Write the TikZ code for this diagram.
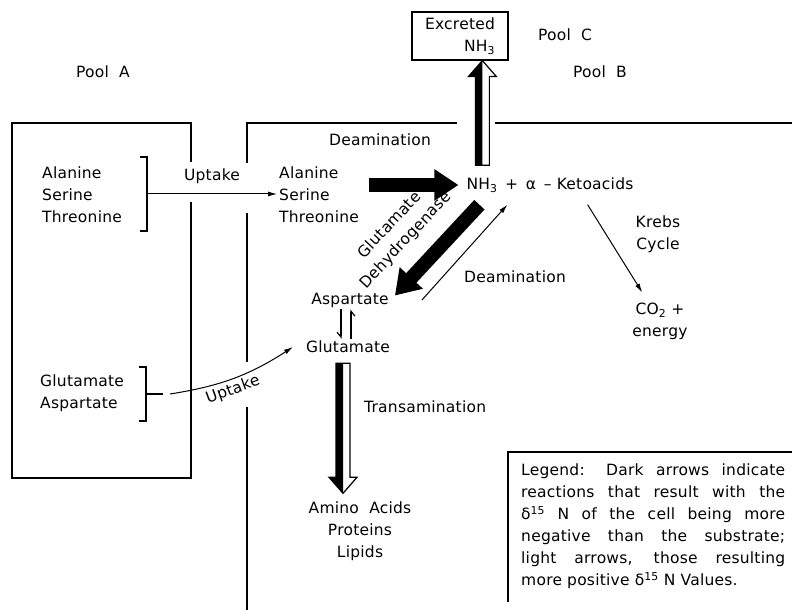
\documentclass[tikz,border=0pt]{standalone}
\usepackage{fontspec}
\setmainfont{DejaVu Sans}[LetterSpace=1.5]
\usetikzlibrary{arrows.meta,calc,positioning}

% arrow whose left half is dark and right half is light
\newcommand\halfarrow[2]{%
  \fill let \p1=(#1), \p2=(#2), \n2={\y2-ifthenelse(\y2>\y1,16,-16)} in
    (\x1,\y1) -- (\x1-7pt,\y1) -- (\x1-7pt,\n2) -- (\x1-14pt,\n2) -- (\x1,\y2) -- cycle;
  \draw[line width=1.2pt] let \p1=(#1), \p2=(#2), \n2={\y2-ifthenelse(\y2>\y1,16,-16)} in
    (\x1-7pt,\y1) -- (\x1+7pt,\y1) -- (\x1+7pt,\n2) -- (\x1+14pt,\n2) -- (\x1,\y2)
    -- (\x1-14pt,\n2) -- (\x1-7pt,\n2) -- cycle;}

\begin{document}
\begin{tikzpicture}[x=1pt, y=1pt,
    lbl/.style   = {font=\fontsize{15.5}{22}\selectfont, inner sep=2pt},
    frame/.style = {line width=1.2pt},
    thin/.style  = {-{Latex[length=9pt,width=5pt]}, line width=1pt},
    fat/.style   = {line width=14pt, -{Triangle[length=24pt,width=30pt]}},
    harp/.style  = {line width=1.2pt, -{Straight Barb[harpoon,swap,length=5pt,width=8pt]}}
  ]
  \useasboundingbox (0,0) rectangle (792,610);

  % pools
  \node[lbl] (poolA) at (103,538) {Pool\ \ A};
  \node[lbl] (poolB) at (600,538) {Pool\ \ B};
  \node[lbl] (poolC) at (565,575) {Pool\ \ C};
  \node[lbl, draw, frame, align=right, minimum width=96, minimum height=48, inner sep=1pt] (exc) at (460,574)
    {Excreted\\NH\textsubscript{3}};

  \draw[frame] (191,448) |- (12,487) |- (191,132) -- (191,408);
  \draw[frame] (247,447) |- (457,487);
  \draw[frame] (495,487) -- (792,487);
  \draw[frame] (247,397) -- (247,248);
  \draw[frame] (247,203) -- (247,0);
  \draw[frame] (792,158) -| (508,8);

  % substrates
  \node[lbl, align=left, anchor=west] (aAla) at (40,415) {Alanine\\Serine\\Threonine};
  \node[lbl, align=left, anchor=west] (aGlu) at (38,217) {Glutamate\\Aspartate};
  \coordinate (brA) at (147,416);
  \coordinate (brB) at (146,216);
  \draw[frame] ([shift={(-7,37)}]brA) -| ([yshift=-37]brA) -- ++(-7,0);
  \draw[frame] ([shift={(-7,27)}]brB) -| ([yshift=-27]brB) -- ++(-7,0);
  \draw[frame] (brB) -- ++(17,0);

  \node[lbl, align=left, anchor=west] (bAla) at (277,415) {Alanine\\Serine\\Threonine};
  \node[lbl] (deam1) at (380,470) {Deamination};
  \node[lbl] (nh3) at (550,425) {NH\textsubscript{3}\ \,+\ \,α\ \,–\ Ketoacids};
  \node[lbl, align=center, rotate=47, inner sep=0pt] (gdh) at (398,377) {Glutamate\\Dehydrogenase};
  \node[lbl] (asp) at (350,310) {Aspartate};
  \node[lbl] (glu) at (348,263) {Glutamate};
  \node[lbl] (deam2) at (515,333) {Deamination};
  \node[lbl, align=center] (krebs) at (658,376) {Krebs\\Cycle};
  \node[lbl, align=center] (co2) at (660,289) {CO\textsubscript{2} +\\energy};
  \node[lbl, anchor=west] (trans) at (362,203) {Transamination};
  \node[lbl, align=center] (amino) at (360,79) {Amino\ \ Acids\\Proteins\\Lipids};
  \node[lbl, text width=264, align=justify, anchor=north west] (legend) at (519,148)
    {Legend: Dark arrows indicate\linebreak reactions that result with the\linebreak
     δ\textsuperscript{15} N of the cell being more\linebreak negative than the substrate;\linebreak
     light arrows, those resulting\linebreak more positive δ\textsuperscript{15} N Values.};

  % uptake
  \draw[thin] (brA) -- (bAla.west |- brA);
  \node[lbl] (upt1) at (212,434) {Uptake};
  \draw[thin] ([xshift=24]brB) to[bend right=12] ([xshift=-11]glu.west);
  \node[lbl, rotate=20] (upt2) at (233,220) {Uptake};

  % reactions
  \draw[fat] ([xshift=8]bAla.east |- nh3.west) -- ([xshift=-6]nh3.west);
  \draw[fat] ([shift={(15,-10)}]nh3.south west) -- ([shift={(4,-5)}]asp.north east);
  \draw[thin] ([xshift=31]asp.east) -- ([shift={(43,-10)}]nh3.south west);
  \draw[thin] ([shift={(-48,-10)}]nh3.south east) -- ([shift={(12,8)}]co2.north west);
  \draw[harp] ([xshift=-9]asp.south) -- ([xshift=-9]asp.south |- glu.north);
  \draw[harp] ([xshift=1]asp.south |- glu.north) -- ([xshift=1]asp.south);

  \coordinate (upfoot) at ([shift={(18,10)}]nh3.north west);
  \halfarrow{upfoot}{upfoot |- exc.south}
  \coordinate (dnfoot) at ([shift={(-5,-8)}]glu.south);
  \halfarrow{dnfoot}{$(dnfoot |- amino.north)+(0,6)$}
\end{tikzpicture}
\end{document}
